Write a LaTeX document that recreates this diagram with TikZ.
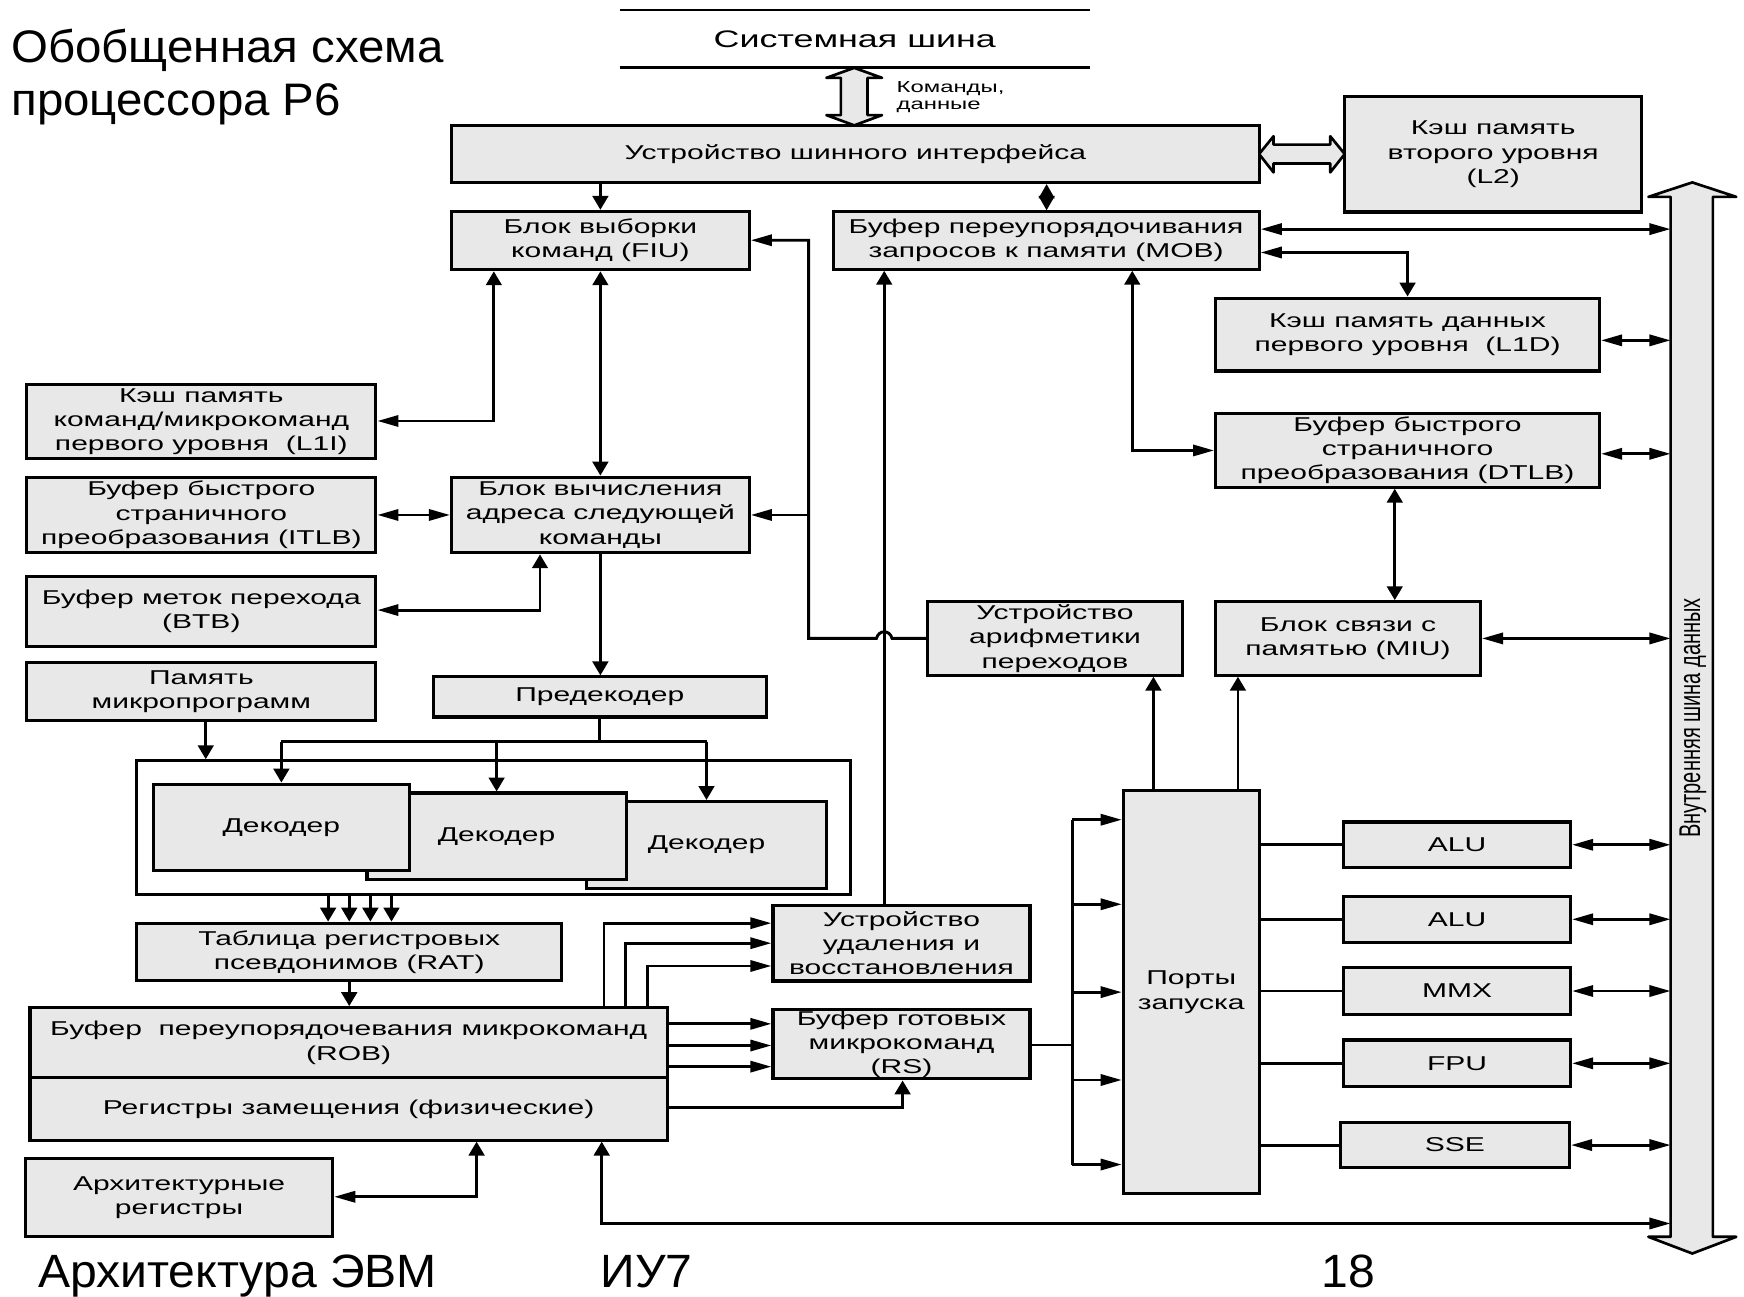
\documentclass[tikz,border=0pt]{standalone}
\usepackage{fontspec}
\setmainfont{Liberation Sans}
\newfontfamily\dfont[FakeStretch=1.5]{Liberation Sans}
\newfontfamily\tfont[FakeStretch=1.04]{Liberation Sans}
\newfontfamily\ffont[FakeStretch=1.03]{Liberation Sans}
\usetikzlibrary{arrows.meta}
\definecolor{boxfill}{RGB}{232,232,232}
\tikzset{
  hT/.tip={Triangle[length=19pt,width=10pt]},
  vT/.tip={Triangle[length=12.5pt,width=14pt]},
  dT/.tip={Triangle[length=13pt,width=14pt]},
  blk/.style={draw, line width=2.8pt, fill=boxfill, inner sep=0pt, align=center,
              font=\dfont\fontsize{18}{21.8}\selectfont},
  plainbox/.style={draw, line width=2.8pt, inner sep=0pt},
  wire/.style={line width=2.6pt},
  hollow/.style={draw, line width=2.4pt, fill=boxfill, line join=round},
  bigtext/.style={anchor=base west, inner sep=0pt, font=\tfont\fontsize{41}{48}\selectfont},
  foottext/.style={anchor=base west, inner sep=0pt, font=\ffont\fontsize{42}{48}\selectfont},
  small/.style={anchor=base west, inner sep=0pt, font=\dfont\fontsize{14.3}{15}\selectfont},
}
\begin{document}
\begin{tikzpicture}[x=1pt,y=-1pt]
\useasboundingbox (0,0) rectangle (1568,1166);

% headings
\node[bigtext] (title1) at (10,56) {Обобщенная схема};
\node[bigtext] (title2) at (10,104) {процессора P6};
\node[foottext] (foot1) at (34,1157.5) {Архитектура ЭВМ};
\node[foottext] (foot2) at (540,1157.5) {ИУ7};
\node[foottext] (foot3) at (1188,1157.5) {18};

% system bus
\draw[wire] (557,9) -- (980,9) (557,61) -- (980,61);
\node[font=\dfont\fontsize{21.5}{24}\selectfont] (sysbus) at (768.5,35) {Системная шина};
\draw[hollow] (768,61) -- (793,70) -- (780,70) -- (780,103.5) -- (793,103.5) -- (768,112.7)
  -- (743,103.5) -- (756,103.5) -- (756,70) -- (743,70) -- cycle;
\node[small] (cmd1) at (806,83.5) {Команды,};
\node[small] (cmd2) at (806,98.5) {данные};

% internal data bus
\draw[hollow] (1521.5,164) -- (1561,177) -- (1540,177) -- (1540,1112) -- (1561,1112) -- (1521.5,1127)
  -- (1482,1112) -- (1502,1112) -- (1502,177) -- (1482,177) -- cycle;
\coordinate (busL) at (1502,600);
\node[rotate=90, inner sep=0pt] (buslabel) at (1522,645.5)
  {\scalebox{1}[1.5]{\fontsize{18}{20}\selectfont Внутренняя шина данных}};

% blocks
\node[blk, minimum width=726pt, minimum height=51.3pt] (biu) at (769,138.4) {Устройство шинного интерфейса};
\node[blk, minimum width=267pt, minimum height=103.6pt] (l2) at (1342.5,138.8) {Кэш память\\второго уровня\\(L2)};
\draw[hollow] (1132,138.5) -- (1145,122.5) -- (1145,130) -- (1196,130) -- (1196,122.5) -- (1209,138.5)
  -- (1196,155) -- (1196,147) -- (1145,147) -- (1145,155) -- cycle;

\node[blk, minimum width=267.6pt, minimum height=52.5pt] (fiu) at (539.8,216.3) {Блок выборки\\команд (FIU)};
\node[blk, minimum width=383pt, minimum height=51.5pt] (mob) at (940.5,216.3) {Буфер переупорядочивания\\запросов к памяти (MOB)};
\node[blk, minimum width=345pt, minimum height=65.5pt] (l1d) at (1265.5,300.8) {Кэш память данных\\первого уровня\ \ (L1D)};
\node[blk, minimum width=345pt, minimum height=66pt] (dtlb) at (1265.5,405) {Буфер быстрого\\страничного\\преобразования (DTLB)};
\node[blk, minimum width=313.7pt, minimum height=66pt] (l1i) at (181,379) {Кэш память\\команд/микрокоманд\\первого уровня\ \ (L1I)};
\node[blk, minimum width=313.7pt, minimum height=68pt] (itlb) at (181,463) {Буфер быстрого\\страничного\\преобразования (ITLB)};
\node[blk, minimum width=267.6pt, minimum height=68pt] (nia) at (539.8,463) {Блок вычисления\\адреса следующей\\команды};
\node[blk, minimum width=313.7pt, minimum height=63pt] (btb) at (181,549.5) {Буфер меток перехода\\(BTB)};
\node[blk, minimum width=313.7pt, minimum height=52pt] (ucode) at (181,622) {Память\\микропрограмм};
\node[blk, minimum width=299.4pt, minimum height=36pt] (predec) at (539.3,626.6) {Предекодер};
\node[blk, minimum width=229pt, minimum height=66pt] (bau) at (948.5,574) {Устройство\\арифметики\\переходов};
\node[blk, minimum width=238pt, minimum height=66pt] (miu) at (1212,574) {Блок связи с\\памятью (MIU)};

% decoder group
\node[plainbox, minimum width=642pt, minimum height=120pt] (decgrp) at (444,744) {};
\node[blk, minimum width=215.5pt, minimum height=78.4pt] (dec3) at (635.2,759.8) {Декодер};
\node[blk, minimum width=233pt, minimum height=78pt] (dec2) at (446.5,752) {Декодер};
\node[blk, minimum width=230pt, minimum height=78pt] (dec1) at (253,744) {Декодер};

\node[blk, minimum width=382pt, minimum height=51.6pt] (rat) at (314,855.8) {Таблица регистровых\\псевдонимов (RAT)};
\node[blk, minimum width=573pt, minimum height=63pt] (robtop) at (313.5,937.5) {Буфер\ \ переупорядочевания микрокоманд\\(ROB)};
\node[blk, minimum width=573pt, minimum height=56pt] (robbot) at (313.5,997) {Регистры замещения (физические)};
\node[blk, minimum width=276pt, minimum height=70pt] (arch) at (161,1076.6) {Архитектурные\\регистры};
\node[blk, minimum width=231pt, minimum height=68pt] (ret) at (810.5,848) {Устройство\\удаления и\\восстановления};
\node[blk, minimum width=231pt, minimum height=62pt] (rs) at (810.5,939) {Буфер готовых\\микрокоманд\\(RS)};
\node[blk, minimum width=122pt, minimum height=362pt] (ports) at (1071,892) {Порты\\запуска};
\node[blk, minimum width=204pt, minimum height=41pt] (alu1) at (1310,759.5) {ALU};
\node[blk, minimum width=204pt, minimum height=41pt] (alu2) at (1310,826.5) {ALU};
\node[blk, minimum width=204pt, minimum height=42pt] (mmx) at (1310,891) {MMX};
\node[blk, minimum width=204pt, minimum height=42pt] (fpu) at (1310,956) {FPU};
\node[blk, minimum width=206pt, minimum height=41pt] (sse) at (1308,1029.5) {SSE};

% connectors: upper part
\draw[wire, -{vT}] (fiu.north |- biu.south) -- (fiu.north);
\draw[wire, {dT}-{dT}] (941,0 |- biu.south) -- (941,0 |- mob.north);
\draw[wire, {hT}-{hT}] (mob.east |- 0,206) -- (busL |- 0,206);
\draw[wire, {hT}-{vT}] (mob.east |- 0,227) -- (l1d.north |- 0,227) -- (l1d.north);
\draw[wire, {hT}-{hT}] (l1d.east |- 0,306) -- (busL |- 0,306);
\draw[wire, {hT}-{hT}] (dtlb.east |- 0,408) -- (busL |- 0,408);
\draw[wire, {hT}-{hT}] (miu.east) -- (busL |- miu.east);
\draw[wire, {vT}-{hT}] (1018,0 |- mob.south) -- (1018,405) -- (dtlb.west |- 0,405);
\draw[wire, {vT}-{vT}] (1254,0 |- dtlb.south) -- (1254,0 |- miu.north);
\draw[wire, -{vT}] (795,0 |- ret.north) -- (795,0 |- mob.south);

% branch unit feedback, hopping over the vertical wire
\coordinate (brk) at (727,574);
\draw[wire, -{hT}] (bau.west) -- (802,574) .. controls (800,566) and (790,566) .. (788,574)
  -- (brk) -- (727,216) -- (fiu.east |- 0,216);
\draw[wire, -{hT}] (727,463) -- (nia.east);

\draw[wire, {vT}-{vT}] (fiu.south) -- (nia.north);
\draw[wire, {vT}-{hT}] (444,0 |- fiu.south) -- (444,378.5) -- (l1i.east |- 0,378.5);
\draw[wire, {hT}-{hT}] (itlb.east) -- (nia.west);
\draw[wire, {vT}-{hT}] (485.5,0 |- nia.south) -- (485.5,548.5) -- (btb.east |- 0,548.5);
\draw[wire, -{vT}] (nia.south) -- (nia.south |- predec.north);

% predecoder to decoders
\draw[wire] (predec.south) -- (predec.south |- 0,667);
\draw[wire] (dec1.north |- 0,667) -- (dec3.north |- 0,667);
\draw[wire, -{vT}] (dec1.north |- 0,667) -- (dec1.north);
\draw[wire, -{vT}] (dec2.north |- 0,667) -- (dec2.north);
\draw[wire, -{vT}] (dec3.north |- 0,667) -- (dec3.north);
\draw[wire, -{vT}] (185,0 |- ucode.south) -- (185,0 |- decgrp.north);

% decoders to RAT to ROB
\foreach \xx in {295,314,333,352}
  \draw[wire, -{vT}] (\xx,0 |- decgrp.south) -- (\xx,0 |- rat.north);
\draw[wire, -{vT}] (rat.south) -- (rat.south |- robtop.north);

% ROB to retire unit and reservation station
\draw[wire, -{hT}] (543,0 |- robtop.north) -- (543,830) -- (ret.west |- 0,830);
\draw[wire, -{hT}] (562,0 |- robtop.north) -- (562,848) -- (ret.west |- 0,848);
\draw[wire, -{hT}] (582,0 |- robtop.north) -- (582,868.5) -- (ret.west |- 0,868.5);
\foreach \yy in {920.5,940,959}
  \draw[wire, -{hT}] (robtop.east |- 0,\yy) -- (rs.west |- 0,\yy);
\draw[wire, -{vT}] (robbot.east |- 0,996) -- (811.5,996) -- (811.5,0 |- rs.south);
\draw[wire, {vT}-{hT}] (428.5,0 |- robbot.south) -- (428.5,1076) -- (arch.east |- 0,1076);
\draw[wire, {vT}-{hT}] (541,0 |- robbot.south) -- (541,1100) -- (busL |- 0,1100);

% reservation station to dispatch ports
\coordinate (disp) at (964,939.5);
\draw[wire] (rs.east |- disp) -- (disp);
\draw[wire] (964,737) -- (964,1047);
\foreach \yy in {737,813,892,971,1047}
  \draw[wire, -{hT}] (964,\yy) -- (ports.west |- 0,\yy);
\draw[wire, -{vT}] (1037,0 |- ports.north) -- (1037,0 |- bau.south);
\draw[wire, -{vT}] (1113,0 |- ports.north) -- (1113,0 |- miu.south);

% execution units
\foreach \u in {alu1,alu2,mmx,fpu,sse}{
  \draw[wire] (ports.east |- \u.west) -- (\u.west);
  \draw[wire, {hT}-{hT}] (\u.east) -- (busL |- \u.east);
}
\end{tikzpicture}
\end{document}
